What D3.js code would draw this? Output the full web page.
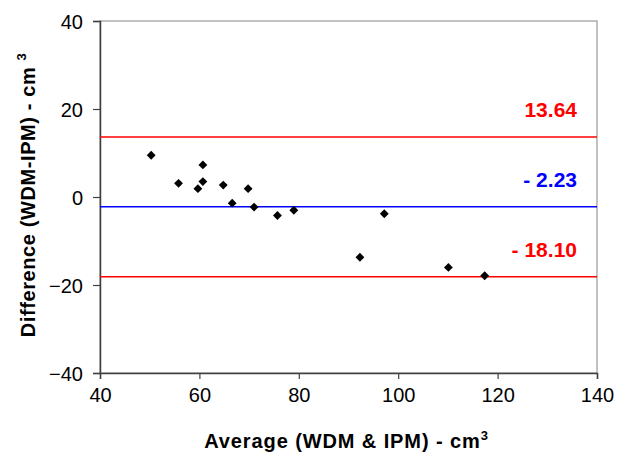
<!DOCTYPE html>
<html>
<head>
<meta charset="utf-8">
<script src="https://cdn.jsdelivr.net/npm/d3@7"></script>
<style>
  body { margin: 0; background: #fff; }
  text { font-family: "Liberation Sans", Arial, sans-serif; }
</style>
</head>
<body>
<svg id="chart" width="618" height="456"></svg>
<script>
// Bland-Altman data
const avgValues = [50.3, 55.8, 59.7, 60.7, 60.7, 64.8, 66.6, 69.8, 71.0, 75.7, 79.0, 92.3, 97.2, 110.1, 117.4];
const diffValues = [9.5, 3.1, 1.9, 7.3, 3.5, 2.7, -1.4, 1.9, -2.3, -4.2, -3.0, -13.7, -3.8, -16.0, -17.9];
const limitValues = [13.64, -2.23, -18.10];
const limitLabels = ["13.64", "- 2.23", "- 18.10"];
const limitColors = ["#ff0000", "#0000ff", "#ff0000"];
const xTicks = [40, 60, 80, 100, 120, 140];
const yTicks = [-40, -20, 0, 20, 40];

const data = avgValues.map((v, i) => ({ x: v, y: diffValues[i] }));

const margin = { top: 21, right: 21, bottom: 83, left: 100 };
const width = 618 - margin.left - margin.right;
const height = 456 - margin.top - margin.bottom;

const svg = d3.select("#chart");
const g = svg.append("g").attr("transform", `translate(${margin.left},${margin.top})`);

const xScale = d3.scaleLinear().domain([40, 140]).range([0, width]);
const yScale = d3.scaleLinear().domain([-40, 40]).range([height, 0]);

// plot area border (top & right)
g.append("rect")
  .attr("x", 0).attr("y", 0)
  .attr("width", width).attr("height", height)
  .attr("fill", "none")
  .attr("stroke", "#999")
  .attr("stroke-width", 1.2);

// axes
const xAxis = d3.axisBottom(xScale).tickValues(xTicks).tickSize(6).tickPadding(9);
const gx = g.append("g")
  .attr("transform", `translate(0,${height})`)
  .call(xAxis);
gx.select(".domain").attr("stroke", "#404040").attr("stroke-width", 1.5);
gx.selectAll(".tick line").attr("stroke", "#404040").attr("stroke-width", 1.2);
gx.selectAll("text").attr("font-size", 20).attr("fill", "#000");

const yAxis = d3.axisLeft(yScale).tickValues(yTicks).tickSize(7).tickPadding(10);
const gy = g.append("g").call(yAxis);
gy.select(".domain").attr("stroke", "#404040").attr("stroke-width", 1.5);
gy.selectAll(".tick line").attr("stroke", "#404040").attr("stroke-width", 1.2);
gy.selectAll("text").attr("font-size", 20).attr("fill", "#000").attr("dy", "0.35em");

// limit lines
g.selectAll(".limit")
  .data(limitValues)
  .enter()
  .append("line")
  .attr("class", "limit")
  .attr("x1", 0)
  .attr("x2", width)
  .attr("y1", (d) => yScale(d))
  .attr("y2", (d) => yScale(d))
  .attr("stroke", (d, i) => limitColors[i])
  .attr("stroke-width", 1.5);

g.selectAll(".limit-label")
  .data(limitValues)
  .enter()
  .append("text")
  .attr("class", "limit-label")
  .attr("x", width - 20)
  .attr("y", (d) => yScale(d) - 20)
  .attr("text-anchor", "end")
  .attr("font-size", 21)
  .attr("font-weight", "bold")
  .attr("fill", (d, i) => limitColors[i])
  .text((d, i) => limitLabels[i]);

// points
g.selectAll(".pt")
  .data(data)
  .enter()
  .append("path")
  .attr("class", "pt")
  .attr("d", d3.symbol().type(d3.symbolDiamond2).size(50))
  .attr("transform", (d) => `translate(${xScale(d.x)},${yScale(d.y)})`)
  .attr("fill", "#000");

// axis titles
const xt = svg.append("text")
  .attr("x", margin.left + width / 2 - 2)
  .attr("y", 448)
  .attr("text-anchor", "middle")
  .attr("font-size", 20)
  .attr("font-weight", "bold")
  .attr("letter-spacing", 0.9);
xt.append("tspan").text("Average (WDM & IPM) - cm");
xt.append("tspan").attr("dy", -8).attr("font-size", 13).text("3");

const yt = svg.append("text")
  .attr("transform", `translate(35,${margin.top + height / 2 - 2}) rotate(-90)`)
  .attr("text-anchor", "middle")
  .attr("font-size", 20)
  .attr("font-weight", "bold")
  .attr("letter-spacing", 0.6);
yt.append("tspan").text("Difference (WDM-IPM) - cm ");
yt.append("tspan").attr("dy", -9).attr("font-size", 13).text("3");
</script>
</body>
</html>
